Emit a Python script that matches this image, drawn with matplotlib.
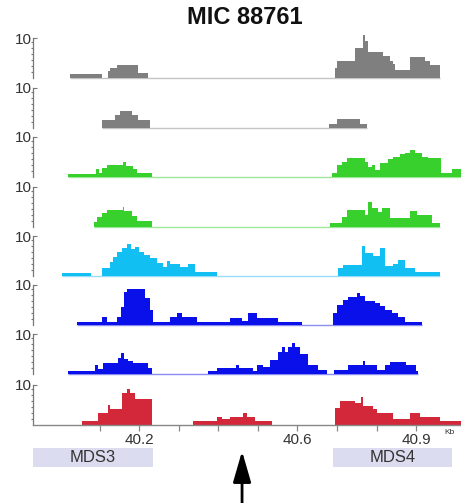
import numpy as np
import matplotlib
matplotlib.use("Agg")
import matplotlib.pyplot as plt
from matplotlib.ticker import FixedLocator

plt.rcParams['font.family'] = ['Liberation Sans', 'DejaVu Sans']

# ---------------- data (positions in Kb, heights on a 0-10 track scale) ----------------
t1_edges = [40.026, 40.107, 40.122, 40.127, 40.144, 40.197, 40.223, 40.695, 40.700, 40.745,
            40.766, 40.771, 40.778, 40.816, 40.834, 40.841, 40.846, 40.884, 40.922, 40.935, 40.960]
t1_vals = [1.0, 0, 1.75, 2.5, 3.25, 1.25, 0, 2.5, 4.25, 7.5, 10.75, 9.25, 6.5, 5.5, 4.25, 3.5,
           2.0, 5.25, 4.25, 3.25]

t2_edges = [40.107, 40.139, 40.152, 40.182, 40.197, 40.228, 40.680, 40.700, 40.758, 40.776]
t2_vals = [2, 3.25, 4.25, 3.25, 2, 0, 1, 2.25, 1]

t3_edges = [40.021, 40.091, 40.099, 40.107, 40.119, 40.160, 40.167, 40.185, 40.195, 40.233,
            40.687, 40.700, 40.713, 40.725, 40.771, 40.778, 40.788, 40.796, 40.809, 40.829,
            40.841, 40.859, 40.872, 40.884, 40.897, 40.915, 40.930, 40.962, 40.990, 41.013]
t3_vals = [0.75, 2, 1, 2.25, 3, 3.75, 2.75, 2, 1, 0,
           1, 3, 3.75, 4.75, 3.75, 2.5, 3, 1.75, 3.5, 4.5, 5, 5.75, 6, 6.75, 6, 5, 4.75, 1, 2]

t4_edges = [40.086, 40.094, 40.107, 40.119, 40.160, 40.162, 40.182, 40.195, 40.233, 40.682,
            40.713, 40.725, 40.771, 40.778, 40.788, 40.803, 40.814, 40.834, 40.884, 40.902,
            40.940, 40.960]
t4_vals = [1.25, 2.5, 3.5, 4.25, 5, 4, 2.75, 1.5, 0,
           1, 2.5, 4.25, 3, 6.25, 4.75, 3.75, 4.75, 2.25, 4, 3, 1]

t5_edges = [40.006, 40.079, 40.107, 40.127, 40.134, 40.144, 40.157, 40.170, 40.180, 40.190,
            40.200, 40.213, 40.228, 40.245, 40.261, 40.271, 40.278, 40.304, 40.324, 40.341,
            40.397, 40.702, 40.715, 40.763, 40.771, 40.791, 40.809, 40.821, 40.841, 40.854,
            40.872, 40.897, 40.960]
t5_vals = [0.75, 0, 2, 3.5, 4.75, 6, 7, 8, 6.75, 7.25, 6, 5.25, 4.5, 3.25, 2.25, 3.75, 3, 2.25,
           3, 1, 0, 2, 2.75, 7.5, 5.75, 5, 7, 2.5, 3, 4, 2, 1]

t6_edges = [40.043, 40.107, 40.119, 40.144, 40.155, 40.162, 40.170, 40.215, 40.228, 40.235,
            40.278, 40.296, 40.309, 40.346, 40.430, 40.460, 40.475, 40.498, 40.551, 40.612,
            40.690, 40.700, 40.715, 40.728, 40.750, 40.758, 40.771, 40.796, 40.809, 40.821,
            40.839, 40.854, 40.872, 40.915]
t6_vals = [0.75, 2, 0.75, 2, 4.5, 8.25, 9, 6.75, 3.75, 0.75, 2, 3, 2, 0.75, 1.75, 1, 3, 1.75,
           0.75, 0, 3, 5, 6.25, 7, 8, 7.25, 6, 5.5, 4.75, 3.75, 3, 2, 0.75]

t7_edges = [40.021, 40.089, 40.096, 40.109, 40.147, 40.155, 40.162, 40.172, 40.185, 40.223,
            40.233, 40.374, 40.397, 40.445, 40.453, 40.488, 40.498, 40.513, 40.531, 40.551,
            40.561, 40.569, 40.576, 40.586, 40.594, 40.607, 40.627, 40.652, 40.675, 40.692,
            40.728, 40.766, 40.771, 40.801, 40.821, 40.834, 40.874, 40.899, 40.904]
t7_vals = [0.75, 2.25, 1.25, 2.75, 4, 5.25, 3.75, 3.25, 2.75, 1.5, 0, 0.75, 1.5, 2.25, 1.5,
           0.75, 2.25, 1.75, 3.5, 5.5, 6.75, 5.5, 6.75, 7.75, 6.75, 5, 2.25, 1, 0, 1, 2.25,
           3.25, 2.25, 1, 2.25, 3, 2.25, 0.75]

t8_edges = [40.056, 40.096, 40.122, 40.127, 40.157, 40.170, 40.177, 40.190, 40.233, 40.336,
            40.397, 40.410, 40.430, 40.463, 40.473, 40.493, 40.536, 40.695, 40.708, 40.745,
            40.760, 40.766, 40.791, 40.801, 40.841, 40.884, 40.910, 40.960, 41.013]
t8_vals = [1, 3, 5, 4, 8, 9, 8, 6.5, 0, 1, 2, 1.5, 2, 3, 2, 1, 0, 4.25, 6, 5.5, 7, 4.75, 4, 3,
           1.5, 3, 2, 1]

track_edges = [t1_edges, t2_edges, t3_edges, t4_edges, t5_edges, t6_edges, t7_edges, t8_edges]
track_vals = [t1_vals, t2_vals, t3_vals, t4_vals, t5_vals, t6_vals, t7_vals, t8_vals]
track_colors = ['#7f7f7f', '#7f7f7f', '#38d02c', '#38d02c', '#12bff2', '#0a10ea', '#0a10ea', '#d2283a']
track_line_colors = ['#c4c4c4', '#c4c4c4', '#9de69a', '#9de69a', '#9adcf6', '#8a8cf2', '#8a8cf2', '#888888']

x_ticks = [40.1, 40.2, 40.3, 40.4, 40.5, 40.6, 40.7, 40.8, 40.9]
x_tick_labels = ['', '40.2', '', '', '', '40.6', '', '', '40.9']

region_names = ['MDS3', 'MDS4']
region_start = [39.932, 40.690]
region_end = [40.235, 40.990]
arrow_pos = 40.460

title = 'MIC 88761'

# ---------------- layout ----------------
W, H = 461, 503
fig = plt.figure(figsize=(W / 100, H / 100), dpi=100)
left_px = 33
baselines_px = [78, 128, 177, 227, 276, 325, 374, 425]
track_h_px = 40
xlim = (39.932, 41.013)

axes = []
for i, b in enumerate(baselines_px):
    ax = fig.add_axes([left_px / W, 1 - b / H, 1 - left_px / W, track_h_px / H])
    ax.set_xlim(*xlim)
    ax.set_ylim(0, 10)
    e = track_edges[i]
    v = track_vals[i]
    if i < 7:
        ax.hlines(0, e[0], e[-1], color=track_line_colors[i], lw=1.0, zorder=1, clip_on=False)
    ax.stairs(v, e, fill=True, color=track_colors[i], lw=0, zorder=2, clip_on=False)
    for s in ['top', 'right', 'bottom']:
        ax.spines[s].set_visible(False)
    ax.spines['left'].set_color('#777777')
    ax.spines['left'].set_linewidth(0.9)
    ax.yaxis.set_major_locator(FixedLocator([10]))
    ax.set_yticklabels(['10'])
    ax.yaxis.set_minor_locator(FixedLocator([1.5, 3, 4.5, 6, 7.5, 9]))
    ax.tick_params(axis='y', which='major', direction='in', length=3, width=0.8,
                   color='#777777', labelsize=11, labelcolor='#333333', pad=1)
    ax.tick_params(axis='y', which='minor', direction='out', length=1.5, width=0.8,
                   color='#777777')
    ax.patch.set_alpha(0)
    if i < 7:
        ax.set_xticks([])
    axes.append(ax)

axb = axes[-1]
axb.spines['bottom'].set_visible(True)
axb.spines['bottom'].set_color('#888888')
axb.spines['bottom'].set_linewidth(1.0)
axb.set_xticks(x_ticks)
axb.set_xticklabels(x_tick_labels)
axb.tick_params(axis='x', direction='out', length=4, width=0.9, color='#888888',
                labelsize=11, labelcolor='#333333', pad=2)
axb.text(40.985, -0.2, 'Kb', transform=axb.get_xaxis_transform(), fontsize=6,
         color='#333333', ha='center', va='center')

# annotation strip
ann = fig.add_axes([left_px / W, 0, 1 - left_px / W, 73 / H])
ann.set_xlim(*xlim)
ann.set_ylim(0, 1)
ann.axis('off')
for name, s, e in zip(region_names, region_start, region_end):
    ann.add_patch(plt.Rectangle((s, 0.493), e - s, 0.26, facecolor='#dcdcf0',
                                edgecolor='none', clip_on=False))
    ann.text((s + e) / 2, 0.62, name, ha='center', va='center', fontsize=12, color='#333333')
ann.annotate('', xy=(arrow_pos, 0.71), xytext=(arrow_pos, -0.05),
             arrowprops=dict(arrowstyle='-|>,head_length=1.9,head_width=0.55',
                             color='black', lw=2, shrinkA=0, shrinkB=0))

fig.text(245 / W, 1 - 18 / H, title, ha='center', va='center', fontsize=17,
         fontweight='bold', color='#111111')

fig.savefig('out.png', dpi=100)
